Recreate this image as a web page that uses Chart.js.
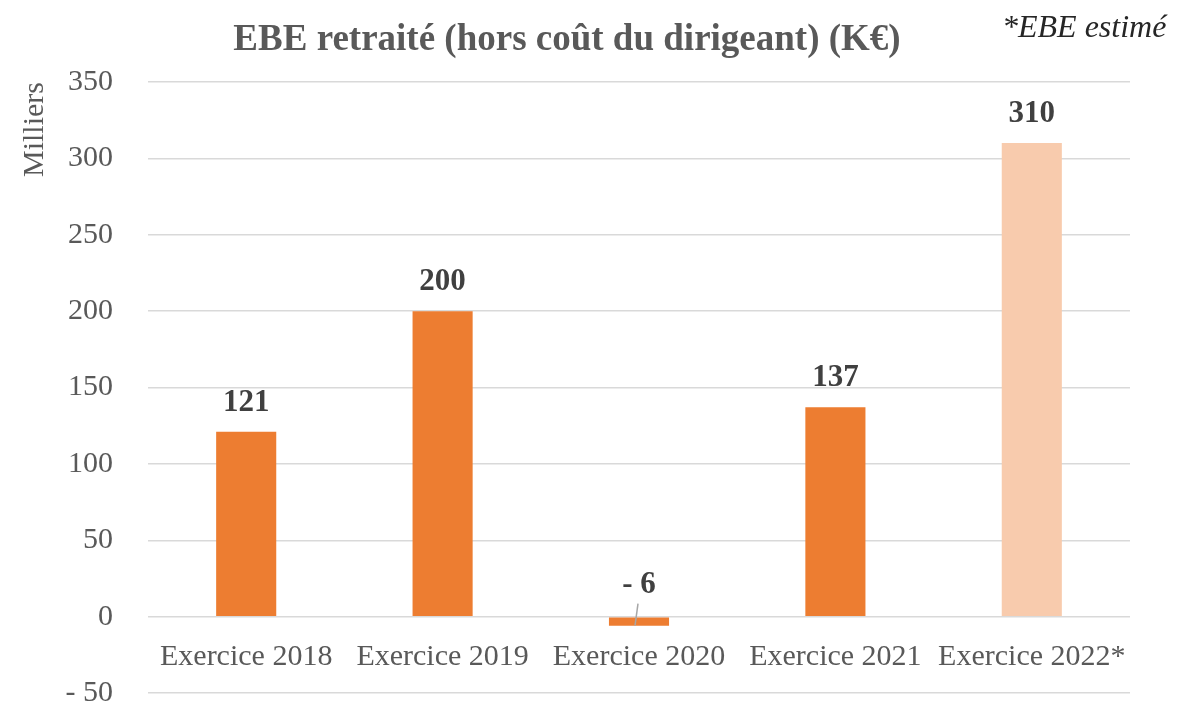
<!DOCTYPE html>
<html>
<head>
<meta charset="utf-8">
<script src="https://cdn.jsdelivr.net/npm/chart.js@4"></script>
<style>
  html, body { margin: 0; padding: 0; background: #fff; }
  #wrap { width: 1193px; height: 704px; }
</style>
</head>
<body>
<div id="wrap"><canvas id="chartEbe" width="1193" height="704"></canvas></div>
<script>
// Données du graphique
var categories = ["Exercice 2018", "Exercice 2019", "Exercice 2020", "Exercice 2021", "Exercice 2022*"];
var valeursEbe = [121, 200, -6, 137, 310];
var couleursBarres = ["#ED7D31", "#ED7D31", "#ED7D31", "#ED7D31", "#F8CBAD"];
var ticksY = [-50, 0, 50, 100, 150, 200, 250, 300, 350];

var titre = "EBE retraité (hors coût du dirigeant) (K€)";
var note = "*EBE estimé";
var police = "'Liberation Serif', 'Times New Roman', serif";

// format Excel : "- 50"
function formatNombre(v) {
  return v < 0 ? "- " + Math.abs(v) : String(v);
}

// Titre et note
var pluginTitre = {
  id: "titreEbe",
  afterDraw: function (chart) {
    var ctx = chart.ctx;
    ctx.save();
    ctx.fillStyle = "#595959";
    ctx.font = "bold 37px " + police;
    ctx.textAlign = "center";
    ctx.textBaseline = "alphabetic";
    ctx.fillText(titre, 567, 50);
    ctx.fillStyle = "#262626";
    ctx.font = "italic 32px " + police;
    ctx.textAlign = "left";
    ctx.fillText(note, 1002, 37);
    ctx.restore();
  },
};

// Étiquettes de données au-dessus des barres
var pluginEtiquettes = {
  id: "etiquettesEbe",
  afterDatasetsDraw: function (chart) {
    var ctx = chart.ctx;
    var meta = chart.getDatasetMeta(0);
    var zeroY = chart.scales.y.getPixelForValue(0);
    ctx.save();
    ctx.font = "bold 31px " + police;
    ctx.fillStyle = "#404040";
    ctx.textAlign = "center";
    ctx.textBaseline = "middle";
    meta.data.forEach(function (bar, i) {
      var v = valeursEbe[i];
      if (v >= 0) {
        ctx.fillText(formatNombre(v), bar.x, bar.y - 29);
      } else {
        ctx.fillText(formatNombre(v), bar.x, zeroY - 32);
        // ligne de repère
        ctx.strokeStyle = "#A6A6A6";
        ctx.lineWidth = 1.5;
        ctx.beginPath();
        ctx.moveTo(bar.x - 1, zeroY - 13);
        ctx.lineTo(bar.x - 4, zeroY + 9);
        ctx.stroke();
      }
    });
    ctx.restore();
  },
};

var ctx = document.getElementById("chartEbe").getContext("2d");

var chartEbe = new Chart(ctx, {
  type: "bar",
  data: {
    labels: categories,
    datasets: [
      {
        label: "EBE",
        data: valeursEbe,
        backgroundColor: couleursBarres,
        borderWidth: 0,
        categoryPercentage: 1,
        barPercentage: 0.306,
      },
    ],
  },
  options: {
    responsive: false,
    animation: false,
    layout: {
      padding: { left: 0, right: 63, top: 82, bottom: 11 },
    },
    plugins: {
      legend: { display: false },
      title: { display: false },
      tooltip: { enabled: false },
    },
    scales: {
      x: {
        position: { y: 0 },
        afterFit: function (scale) {
          scale.height = 0;
        },
        grid: { display: false },
        border: { display: false },
        ticks: {
          color: "#595959",
          font: { family: police, size: 30 },
          padding: 14,
          maxRotation: 0,
          autoSkip: false,
        },
      },
      y: {
        min: -50,
        max: 350,
        afterFit: function (scale) {
          scale.width = 148;
          // la marge des étiquettes ne doit pas réduire la zone du graphique
          scale.paddingTop = 0;
          scale.paddingBottom = 0;
        },
        afterBuildTicks: function (scale) {
          scale.ticks = ticksY.map(function (v) { return { value: v }; });
        },
        grid: {
          color: "#D9D9D9",
          lineWidth: 1.5,
          drawTicks: false,
        },
        border: { display: false },
        ticks: {
          color: "#595959",
          font: { family: police, size: 30 },
          padding: 35,
          callback: function (v) { return formatNombre(v); },
        },
        title: {
          display: true,
          text: "Milliers",
          align: "end",
          color: "#595959",
          font: { family: police, size: 30 },
          padding: { top: 17, bottom: 0 },
        },
      },
    },
  },
  plugins: [pluginTitre, pluginEtiquettes],
});
</script>
</body>
</html>
